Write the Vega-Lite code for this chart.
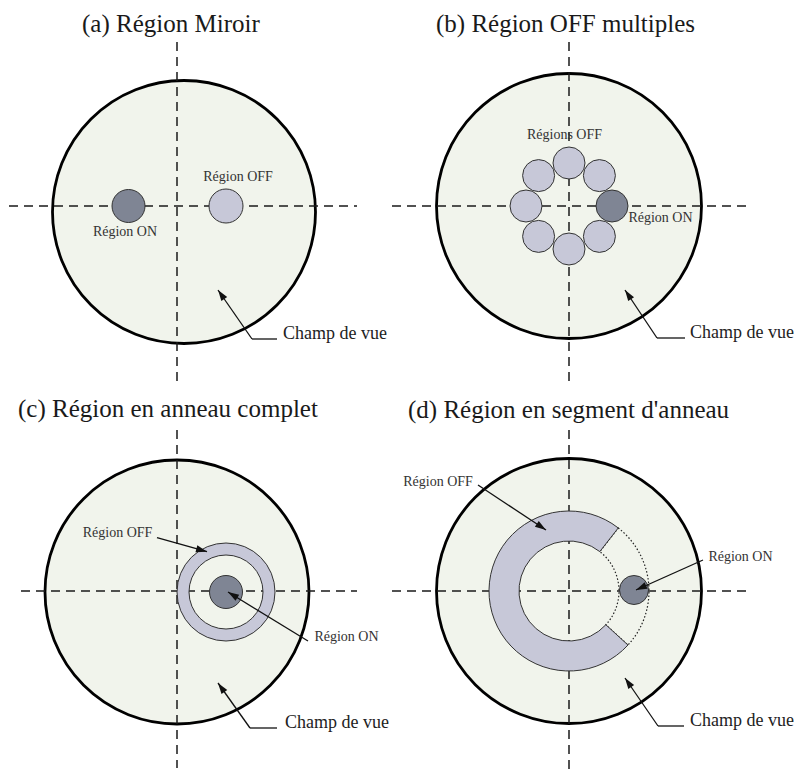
{
  "$schema": "https://vega.github.io/schema/vega-lite/v6.json",
  "padding": 0,
  "background": "white",
  "bounds": "flush",
  "config": {"view": {"stroke": null}, "font": "Liberation Serif", "header": {"labels": false, "title": null, "labelPadding": 0, "titlePadding": 0, "labelFontSize": 0, "labelExpr": "''"}},
  "data": {"values": [
    {"panel":"a","kind":"title","x":-95,"y":174.3,"text":"(a)  Région Miroir"},
    {"panel":"a","kind":"fov","x":7,"y":-6,"r":131.5,"r0":0,"t0":0,"t1":360},
    {"panel":"a","kind":"dash","x":-168,"y":0,"x2":180,"y2":0},
    {"panel":"a","kind":"dash","x":0,"y":164,"x2":0,"y2":-181},
    {"panel":"a","kind":"on","x":-48.5,"y":0,"r":16.5,"r0":0,"t0":0,"t1":360},
    {"panel":"a","kind":"off","x":49,"y":0,"r":17,"r0":0,"t0":0,"t1":360},
    {"panel":"a","kind":"label","x":61,"y":29,"text":"Région OFF"},
    {"panel":"a","kind":"label","x":-52,"y":-26,"text":"Région ON"},
    {"panel":"a","kind":"champ","x":106,"y":-133,"text":"Champ de vue"},
    {"panel":"a","kind":"line","x":100,"y":-133,"x2":75,"y2":-133},
    {"panel":"a","kind":"line","x":75,"y":-133,"x2":41,"y2":-84},
    {"panel":"a","kind":"head","x":41,"y":-84,"ang":-34.8},

    {"panel":"b","kind":"title","x":-133,"y":174,"text":"(b) Région OFF multiples"},
    {"panel":"b","kind":"fov","x":0,"y":0,"r":132.5,"r0":0,"t0":0,"t1":360},
    {"panel":"b","kind":"dash","x":-177,"y":0,"x2":183,"y2":0},
    {"panel":"b","kind":"dash","x":0,"y":164,"x2":0,"y2":-181},
    {"panel":"b","kind":"off","x":30.4,"y":30.4,"r":16,"r0":0,"t0":0,"t1":360},
    {"panel":"b","kind":"off","x":0,"y":43,"r":16,"r0":0,"t0":0,"t1":360},
    {"panel":"b","kind":"off","x":-30.4,"y":30.4,"r":16,"r0":0,"t0":0,"t1":360},
    {"panel":"b","kind":"off","x":-43,"y":0,"r":16,"r0":0,"t0":0,"t1":360},
    {"panel":"b","kind":"off","x":-30.4,"y":-30.4,"r":16,"r0":0,"t0":0,"t1":360},
    {"panel":"b","kind":"off","x":0,"y":-43,"r":16,"r0":0,"t0":0,"t1":360},
    {"panel":"b","kind":"off","x":30.4,"y":-30.4,"r":16,"r0":0,"t0":0,"t1":360},
    {"panel":"b","kind":"on","x":43,"y":0,"r":16,"r0":0,"t0":0,"t1":360},
    {"panel":"b","kind":"label","x":-4.5,"y":71,"text":"Régions OFF"},
    {"panel":"b","kind":"label","x":91.5,"y":-12,"text":"Région ON"},
    {"panel":"b","kind":"champ","x":121,"y":-132,"text":"Champ de vue"},
    {"panel":"b","kind":"line","x":116,"y":-132,"x2":88,"y2":-132},
    {"panel":"b","kind":"line","x":88,"y":-132,"x2":56,"y2":-84},
    {"panel":"b","kind":"head","x":56,"y":-84,"ang":-33.7},

    {"panel":"c","kind":"title","x":-159,"y":174.3,"text":"(c)  Région en anneau complet"},
    {"panel":"c","kind":"fov","x":0,"y":-1,"r":132,"r0":0,"t0":0,"t1":360},
    {"panel":"c","kind":"dash","x":-156,"y":0,"x2":180,"y2":0},
    {"panel":"c","kind":"dash","x":0,"y":161,"x2":0,"y2":-177},
    {"panel":"c","kind":"off","x":49,"y":-1,"r":49,"r0":37,"t0":0,"t1":360},
    {"panel":"c","kind":"on","x":49,"y":-1,"r":16.5,"r0":0,"t0":0,"t1":360},
    {"panel":"c","kind":"label","x":-59.5,"y":58,"text":"Région OFF"},
    {"panel":"c","kind":"label","x":169.5,"y":-45.7,"text":"Région ON"},
    {"panel":"c","kind":"line","x":-20,"y":53.3,"x2":30,"y2":39.3},
    {"panel":"c","kind":"head","x":30,"y":39.3,"ang":105.6},
    {"panel":"c","kind":"line","x":131,"y":-50,"x2":51,"y2":-1},
    {"panel":"c","kind":"head","x":51,"y":-1,"ang":-58.4},
    {"panel":"c","kind":"champ","x":108,"y":-137,"text":"Champ de vue"},
    {"panel":"c","kind":"line","x":100,"y":-137,"x2":73,"y2":-137},
    {"panel":"c","kind":"line","x":73,"y":-137,"x2":41,"y2":-92},
    {"panel":"c","kind":"head","x":41,"y":-92,"ang":-35.4},

    {"panel":"d","kind":"title","x":-161,"y":173,"text":"(d)  Région en segment d'anneau"},
    {"panel":"d","kind":"fov","x":0,"y":0,"r":132.5,"r0":0,"t0":0,"t1":360},
    {"panel":"d","kind":"dash","x":-177,"y":0,"x2":183,"y2":0},
    {"panel":"d","kind":"dash","x":0,"y":161,"x2":0,"y2":-179},
    {"panel":"d","kind":"dotarc","x":0,"y":0,"r":80,"r0":50,"t0":38,"t1":132.5},
    {"panel":"d","kind":"off","x":0,"y":0,"r":80,"r0":50,"t0":132.5,"t1":398},
    {"panel":"d","kind":"on","x":65,"y":1,"r":14.5,"r0":0,"t0":0,"t1":360},
    {"panel":"d","kind":"label","x":-131,"y":109,"text":"Région OFF"},
    {"panel":"d","kind":"label","x":171.5,"y":34.3,"text":"Région ON"},
    {"panel":"d","kind":"line","x":-91,"y":106,"x2":-23,"y2":61},
    {"panel":"d","kind":"head","x":-23,"y":61,"ang":123.5},
    {"panel":"d","kind":"line","x":134,"y":31,"x2":67,"y2":1},
    {"panel":"d","kind":"head","x":67,"y":1,"ang":-114.1},
    {"panel":"d","kind":"champ","x":121,"y":-135,"text":"Champ de vue"},
    {"panel":"d","kind":"line","x":115,"y":-135,"x2":89,"y2":-135},
    {"panel":"d","kind":"line","x":89,"y":-135,"x2":56,"y2":-87},
    {"panel":"d","kind":"head","x":56,"y":-87,"ang":-34.5}
  ]},
  "facet": {"field": "panel", "type": "nominal", "header": {"labels": false, "title": null, "labelPadding": 0, "titlePadding": 0, "labelFontSize": 0, "labelExpr": "''"}, "title": null},
  "columns": 2,
  "spacing": 0,
  "spec": {
    "width": 392,
    "height": 385,
    "encoding": {
      "x": {"field": "x", "type": "quantitative", "scale": {"domain": [-177, 215], "nice": false, "zero": false}, "axis": null},
      "y": {"field": "y", "type": "quantitative", "scale": {"domain": [-179, 206], "nice": false, "zero": false}, "axis": null}
    },
    "layer": [
      {
        "transform": [{"filter": "datum.kind === 'fov'"}],
        "mark": {"type": "arc", "fill": "#f1f4ec", "stroke": "#000000", "strokeWidth": 2.8},
        "encoding": {
          "radius": {"field": "r", "type": "quantitative", "scale": {"type": "linear", "domain": [0, 100], "range": [0, 100], "zero": true, "nice": false}},
          "radius2": {"field": "r0"},
          "theta": {"field": "t0", "type": "quantitative", "stack": null, "scale": {"domain": [0, 360], "range": [0, 6.283185307179586], "zero": true, "nice": false}},
          "theta2": {"field": "t1"}
        }
      },
      {
        "transform": [{"filter": "datum.kind === 'dash'"}],
        "mark": {"type": "rule", "stroke": "#1a1a1a", "strokeWidth": 1.5, "strokeDash": [9, 6]},
        "encoding": {"x2": {"field": "x2"}, "y2": {"field": "y2"}}
      },
      {
        "transform": [{"filter": "datum.kind === 'dotarc'"}],
        "mark": {"type": "arc", "filled": false, "stroke": "#222222", "strokeWidth": 1.2, "strokeDash": [1.5, 2]},
        "encoding": {
          "radius": {"field": "r", "type": "quantitative", "scale": {"type": "linear", "domain": [0, 100], "range": [0, 100], "zero": true, "nice": false}},
          "radius2": {"field": "r0"},
          "theta": {"field": "t0", "type": "quantitative", "stack": null, "scale": {"domain": [0, 360], "range": [0, 6.283185307179586], "zero": true, "nice": false}},
          "theta2": {"field": "t1"}
        }
      },
      {
        "transform": [{"filter": "datum.kind === 'off'"}],
        "mark": {"type": "arc", "fill": "#c7c8d8", "stroke": "#333333", "strokeWidth": 1},
        "encoding": {
          "radius": {"field": "r", "type": "quantitative", "scale": {"type": "linear", "domain": [0, 100], "range": [0, 100], "zero": true, "nice": false}},
          "radius2": {"field": "r0"},
          "theta": {"field": "t0", "type": "quantitative", "stack": null, "scale": {"domain": [0, 360], "range": [0, 6.283185307179586], "zero": true, "nice": false}},
          "theta2": {"field": "t1"}
        }
      },
      {
        "transform": [{"filter": "datum.kind === 'on'"}],
        "mark": {"type": "arc", "fill": "#7f8594", "stroke": "#333333", "strokeWidth": 1},
        "encoding": {
          "radius": {"field": "r", "type": "quantitative", "scale": {"type": "linear", "domain": [0, 100], "range": [0, 100], "zero": true, "nice": false}},
          "radius2": {"field": "r0"},
          "theta": {"field": "t0", "type": "quantitative", "stack": null, "scale": {"domain": [0, 360], "range": [0, 6.283185307179586], "zero": true, "nice": false}},
          "theta2": {"field": "t1"}
        }
      },
      {
        "transform": [{"filter": "datum.kind === 'label'"}],
        "mark": {"type": "text", "font": "Liberation Serif", "fontSize": 14, "fill": "#333333", "align": "center", "baseline": "middle"},
        "encoding": {"text": {"field": "text"}}
      },
      {
        "transform": [{"filter": "datum.kind === 'champ'"}],
        "mark": {"type": "text", "font": "Liberation Serif", "fontSize": 18, "fill": "#222222", "align": "left", "baseline": "alphabetic"},
        "encoding": {"text": {"field": "text"}}
      },
      {
        "transform": [{"filter": "datum.kind === 'title'"}],
        "mark": {"type": "text", "font": "Liberation Serif", "fontSize": 25, "fill": "#1a1a1a", "align": "left", "baseline": "alphabetic"},
        "encoding": {"text": {"field": "text"}}
      },
      {
        "transform": [{"filter": "datum.kind === 'line'"}],
        "mark": {"type": "rule", "stroke": "#111111", "strokeWidth": 1.3},
        "encoding": {"x2": {"field": "x2"}, "y2": {"field": "y2"}}
      },
      {
        "transform": [{"filter": "datum.kind === 'head'"}],
        "mark": {"type": "point", "shape": "M0,0L-0.32,1L0.32,1Z", "filled": true, "fill": "#111111", "opacity": 1, "size": 484, "strokeWidth": 0},
        "encoding": {"angle": {"field": "ang", "type": "quantitative", "scale": {"domain": [0, 360], "range": [0, 360], "zero": true, "nice": false}}}
      }
    ]
  }
}
